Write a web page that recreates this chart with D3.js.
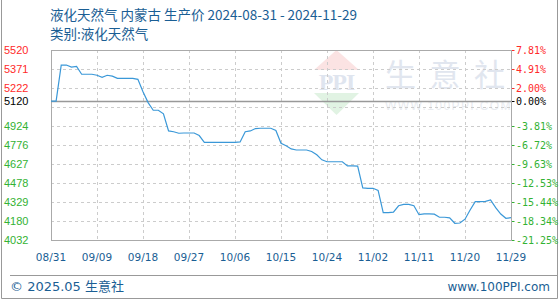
<!DOCTYPE html>
<html><head><meta charset="utf-8">
<script src="https://cdn.jsdelivr.net/npm/d3@7"></script>
<style>
html,body{margin:0;padding:0;background:#fff;}
svg{display:block;}
</style></head>
<body>
<svg id="c" width="560" height="300"></svg>
<script>
// ---- data ----
const titleText = "液化天然气 内蒙古 生产价 2024-08-31 - 2024-11-29";
const subTitle = "类别:液化天然气";
const startDate = "2024-08-31";
// daily prices from 08/31 to 11/29
const prices = [
 5120,5120,5402,5402,5386,5392,5330,5330,5330,5322,
 5306,5322,5315,5298,5298,5298,5298,5290,5193,5108,
 5048,5048,5020,4886,4880,4868,4870,4870,4870,4850,
 4797,4797,4797,4797,4797,4797,4797,4800,4880,4886,
 4905,4907,4907,4907,4890,4790,4770,4745,4737,4737,
 4737,4725,4700,4660,4645,4645,4645,4645,4612,4612,
 4610,4440,4437,4437,4420,4246,4246,4250,4300,4311,
 4311,4300,4230,4236,4236,4234,4210,4210,4205,4163,
 4165,4195,4267,4332,4332,4334,4345,4285,4235,4202,
 4207
];
const baseValue = 5120;
const yGrid = [5520, 5371.2, 5222.4, 5073.6, 4924.8, 4776, 4627.2, 4478.4, 4329.6, 4180.8, 4032];
const yLabels = ["5520","5371","5222","5120","4924","4776","4627","4478","4329","4180","4032"];
const yLabelValues = [5520, 5371.2, 5222.4, 5120, 4924.8, 4776, 4627.2, 4478.4, 4329.6, 4180.8, 4032];
const pctLabels = ["7.81%","4.91%","2.00%","0.00%","-3.81%","-6.72%","-9.63%","-12.53%","-15.44%","-18.34%","-21.25%"];
const xTickLabels = ["08/31","09/09","09/18","09/27","10/06","10/15","10/24","11/02","11/11","11/20","11/29"];
const footerLeft = "© 2025.05 生意社";
const footerRight = "www.100PPI.com";
const watermarkChars = ["生","意","社"];

// ---- layout ----
const L = 51, R = 511, T = 50, B = 240;
const svg = d3.select("#c");
const parse = d3.utcParse("%Y-%m-%d");
const d0 = parse(startDate);
const data = prices.map((v, i) => ({date: d3.utcDay.offset(d0, i), value: v}));
const x = d3.scaleUtc().domain([d0, data[data.length - 1].date]).range([L, R]);
const y = d3.scaleLinear().domain([4032, 5520]).range([B, T]);
const tickDates = xTickLabels.map(s => {
  const [m, d] = s.split("/").map(Number);
  return new Date(Date.UTC(2024, m - 1, d));
});
const colorFor = v => v > baseValue + 0.5 ? "#ff2a2a" : (v < baseValue - 0.5 ? "#33b233" : "#000");

// outer frame
svg.append("line").attr("x1",1.5).attr("x2",1.5).attr("y1",0).attr("y2",298.5).attr("stroke","#999");
svg.append("line").attr("x1",557.5).attr("x2",557.5).attr("y1",0).attr("y2",298.5).attr("stroke","#999");
svg.append("line").attr("x1",1.5).attr("x2",557.5).attr("y1",298.5).attr("y2",298.5).attr("stroke","#999");
svg.append("line").attr("x1",10).attr("x2",557.5).attr("y1",275.5).attr("y2",275.5).attr("stroke","#999");

// titles
svg.append("text").attr("x",50).attr("y",20).attr("font-family","Noto Sans CJK SC, sans-serif")
  .attr("font-size",13.5).attr("fill","#1a5e94").text(titleText);
svg.append("text").attr("x",50).attr("y",39).attr("font-family","Noto Sans CJK SC, sans-serif")
  .attr("font-size",13.5).attr("fill","#1a5e94").text(subTitle);

// watermark
const wm = svg.append("g");
wm.append("path").attr("d", d3.line()([[336.5,50],[359,70],[314,70]])).attr("fill","#fbe3e3");
wm.append("text").attr("x",336.5).attr("y",90).attr("text-anchor","middle").attr("font-family","Liberation Serif, serif")
  .attr("font-weight","bold").attr("font-size",24).attr("fill","#dfe5ef").attr("letter-spacing",-1).text("PPI");
wm.append("path").attr("d", d3.line()([[314,93],[359,93],[336.5,115]])).attr("fill","#e1f3e3");
wm.selectAll(".wc").data(watermarkChars).join("text")
  .attr("x",(d,i)=>385 + i*44.5).attr("y",86).attr("font-family","Noto Sans CJK SC, sans-serif")
  .attr("font-size",31).attr("fill","#e1e6ef").text(d=>d);
wm.append("text").attr("x",385).attr("y",110).attr("font-family","Liberation Sans, sans-serif")
  .attr("font-size",12).attr("fill","#e8ebf0").attr("letter-spacing",1.4).text("WWW.100PPI.COM");

// grid
const g = svg.append("g");
g.selectAll(".hg").data(yGrid).join("line")
  .attr("x1",L).attr("x2",R).attr("y1",d=>Math.round(y(d))+0.5).attr("y2",d=>Math.round(y(d))+0.5)
  .attr("stroke","#cccccc").attr("stroke-dasharray","3,3");
g.selectAll(".vg").data(tickDates).join("line")
  .attr("x1",d=>Math.round(x(d))+0.5).attr("x2",d=>Math.round(x(d))+0.5).attr("y1",T).attr("y2",B)
  .attr("stroke","#cccccc").attr("stroke-dasharray","3,3");

// frame of plot
svg.append("rect").attr("x",L+0.5).attr("y",T+0.5).attr("width",R-L).attr("height",B-T)
  .attr("fill","none").attr("stroke","#aaaaaa");
svg.append("line").attr("x1",L).attr("x2",R).attr("y1",Math.round(y(baseValue))+0.5).attr("y2",Math.round(y(baseValue))+0.5)
  .attr("stroke","#999").attr("stroke-width",1.3);

// left labels
svg.selectAll(".yl").data(yLabelValues).join("text")
  .attr("x",4).attr("y",d=>y(d)).attr("dy","0.36em")
  .attr("font-family","Liberation Sans, sans-serif").attr("font-size",11)
  .attr("fill",d=>colorFor(d)).text((d,i)=>yLabels[i]);

// right ticks and labels
svg.selectAll(".rt").data(yLabelValues).join("line")
  .attr("x1",R+1).attr("x2",R+3.5).attr("y1",d=>Math.round(y(d))+0.5).attr("y2",d=>Math.round(y(d))+0.5)
  .attr("stroke",d=>colorFor(d));
svg.selectAll(".pl").data(yLabelValues).join("text")
  .attr("x",516).attr("y",d=>y(d)).attr("dy","0.36em")
  .attr("font-family","DejaVu Sans Mono, monospace").attr("font-size",10)
  .attr("fill",d=>colorFor(d)).text((d,i)=>pctLabels[i]);

// x labels
svg.selectAll(".xl").data(tickDates).join("text")
  .attr("x",d=>x(d)).attr("y",261).attr("text-anchor","middle")
  .attr("font-family","DejaVu Sans, sans-serif").attr("font-size",10.5)
  .attr("fill","#1a5e94").text((d,i)=>xTickLabels[i]);

// line
svg.append("path").datum(data)
  .attr("d", d3.line().x(d=>x(d.date)).y(d=>y(d.value)))
  .attr("fill","none").attr("stroke","#3a98d8").attr("stroke-width",1.2);

// footer
svg.append("text").attr("x",10).attr("y",291).attr("font-family","DejaVu Sans, Noto Sans CJK SC, sans-serif")
  .attr("font-size",13).attr("fill","#1a5e94").text(footerLeft);
svg.append("text").attr("x",550).attr("y",291).attr("text-anchor","end").attr("font-family","DejaVu Sans, sans-serif")
  .attr("font-size",12).attr("fill","#1a5e94").text(footerRight);
</script>
</body></html>
